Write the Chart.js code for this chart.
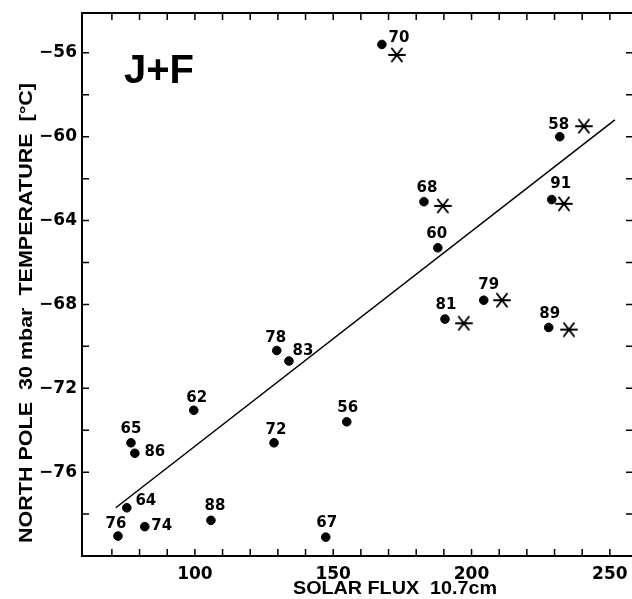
<!DOCTYPE html>
<html>
<head>
<meta charset="utf-8">
<script src="https://cdn.jsdelivr.net/npm/chart.js@4.4.0/dist/chart.umd.min.js"></script>
<style>
  html, body { margin: 0; padding: 0; background: #fff; overflow: hidden; }
  #wrap { width: 632px; height: 599px; position: relative; }
</style>
</head>
<body>
<div id="wrap"><canvas id="myChart" width="632" height="599"></canvas></div>
<script>
// winters (J+F), solar flux vs 30 mbar north pole temperature
var years = ['70', '58', '68', '91', '60', '79', '81', '89', '56', '67', '78', '83', '62', '72', '65', '86', '64', '76', '74', '88']
var flux = [167.6, 231.9, 182.8, 229.0, 187.8, 204.4, 190.4, 227.9, 154.9, 147.3, 129.6, 134.0, 99.6, 128.6, 76.9, 78.3, 75.4, 72.2, 81.9, 105.8]
var temp = [-55.6, -60.0, -63.1, -63.0, -65.3, -67.8, -68.7, -69.1, -73.6, -79.1, -70.2, -70.7, -73.05, -74.6, -74.6, -75.1, -77.7, -79.05, -78.6, -78.3]

// asterisks for the same years (70, 58, 68, 91, 79, 81, 89)
var starFlux = [173.0, 240.6, 189.6, 233.4, 211.0, 197.2, 235.2]
var starTemp = [-56.1, -59.5, -63.3, -63.2, -67.8, -68.9, -69.2]

// regression line end points
var fitFlux = [71.4, 251.8]
var fitTemp = [-77.7, -59.2]

var xTicks = [60, 70, 80, 90, 100, 110, 120, 130, 140, 150, 160, 170, 180, 190, 200, 210, 220, 230, 240, 250]
var yTicks = [-78, -76, -74, -72, -70, -68, -66, -64, -62, -60, -58, -56]
var xTickLabels = [100, 150, 200, 250]
var yTickLabels = [-56, -60, -64, -68, -72, -76]

// where each year label sits relative to its dot (pixels)
var labelShift = [[17, -6], [-1, -12], [3, -14], [9, -15], [-1, -14], [5, -15], [1, -14], [1, -13], [1, -14], [1, -14],
  [-1, -12], [14, -10], [3, -12], [2, -13], [0, -14], [20, -1], [19, -7], [-2, -12], [17, -1], [4, -14]]

Chart.defaults.font.family = 'DejaVu Sans'
Chart.defaults.color = '#000'

// asterisk marker
var star = document.createElement('canvas')
star.width = 18; star.height = 16
var sc = star.getContext('2d')
sc.strokeStyle = '#000'; sc.lineWidth = 2; sc.lineCap = 'round'
sc.beginPath()
sc.moveTo(1, 8); sc.lineTo(17, 8)
sc.moveTo(4, 1.5); sc.lineTo(14, 14.5)
sc.moveTo(14, 1.5); sc.lineTo(4, 14.5)
sc.stroke()

function fitText(ctx, text, cx, cy, width, rot) {
  ctx.save()
  ctx.translate(cx, cy)
  ctx.rotate(rot)
  var w = ctx.measureText(text).width
  ctx.scale(width / w, 1)
  ctx.textAlign = 'center'
  ctx.textBaseline = 'middle'
  ctx.fillText(text, 0, 0)
  ctx.restore()
}

var framePlugin = {
  id: 'frame',
  afterDraw: function(chart) {
    var ctx = chart.ctx
    var a = chart.chartArea
    var xs = chart.scales.x, ys = chart.scales.y
    ctx.save()
    ctx.strokeStyle = '#000'
    ctx.lineWidth = 2
    // the right border falls just outside the picture, as in the scan
    ctx.beginPath()
    ctx.moveTo(a.right + 2, a.top); ctx.lineTo(a.left, a.top)
    ctx.lineTo(a.left, a.bottom); ctx.lineTo(a.right + 2, a.bottom)
    ctx.stroke()
    ctx.lineWidth = 1.5
    ctx.beginPath()
    xs.ticks.forEach(function(t) {
      var px = xs.getPixelForValue(t.value)
      if (px < a.left + 4 || px > a.right - 4) return
      ctx.moveTo(px, a.bottom); ctx.lineTo(px, a.bottom - 7)
      ctx.moveTo(px, a.top); ctx.lineTo(px, a.top + 7)
    })
    ys.ticks.forEach(function(t) {
      var py = ys.getPixelForValue(t.value)
      if (py < a.top + 4 || py > a.bottom - 4) return
      ctx.moveTo(a.left, py); ctx.lineTo(a.left + 7, py)
      ctx.moveTo(a.right, py); ctx.lineTo(a.right - 6, py)
    })
    ctx.stroke()

    // year labels
    var meta = chart.getDatasetMeta(0)
    ctx.fillStyle = '#000'
    ctx.font = 'bold 15px "DejaVu Sans"'
    ctx.textAlign = 'center'
    ctx.textBaseline = 'middle'
    meta.data.forEach(function(pt, i) {
      ctx.fillText(years[i], pt.x + labelShift[i][0], pt.y + labelShift[i][1])
    })

    // panel label
    ctx.font = 'bold 40px "Liberation Sans"'
    ctx.textAlign = 'left'
    ctx.textBaseline = 'alphabetic'
    ctx.fillText('J+F', 124, 83)

    // axis titles
    ctx.font = 'bold 19px "Liberation Sans"'
    fitText(ctx, 'SOLAR FLUX  10.7cm', 395, 589, 204, 0)
    fitText(ctx, 'NORTH POLE  30 mbar  TEMPERATURE  [°C]', 27, 313, 460, -Math.PI / 2)
    ctx.restore()
  }
}

var ctx = document.getElementById('myChart').getContext('2d')
var myChart = new Chart(ctx, {
  type: 'scatter',
  data: {
    datasets: [{
      data: flux.map(function(v, i) { return {x: v, y: temp[i]} }),
      backgroundColor: '#000',
      borderColor: '#000',
      pointRadius: 4.3,
      pointHoverRadius: 4.3
    }, {
      data: starFlux.map(function(v, i) { return {x: v, y: starTemp[i]} }),
      pointStyle: star,
      pointRadius: 8
    }, {
      type: 'line',
      data: fitFlux.map(function(v, i) { return {x: v, y: fitTemp[i]} }),
      borderColor: '#000',
      borderWidth: 1.5,
      pointRadius: 0,
      fill: false
    }]
  },
  options: {
    responsive: false,
    animation: false,
    events: [],
    // autoPadding reserved room for the 8px star markers on the right
    layout: {autoPadding: false, padding: {top: 13, right: 0, left: 0, bottom: 0}},
    plugins: {legend: {display: false}, tooltip: {enabled: false}},
    scales: {
      x: {
        type: 'linear',
        min: 59.2,
        max: 258,
        grid: {display: false, drawTicks: false},
        border: {display: false},
        afterFit: function(s) { s.height = 43; s.paddingLeft = 0; s.paddingRight = 0 },
        afterBuildTicks: function(s) { s.ticks = xTicks.map(function(v) { return {value: v} }) },
        ticks: {
          autoSkip: false,
          maxRotation: 0,
          padding: 8,
          font: {size: 17, weight: 'bold'},
          callback: function(v) { return xTickLabels.indexOf(v) >= 0 ? String(v) : '' }
        }
      },
      y: {
        type: 'linear',
        min: -80,
        max: -54.1,
        grid: {display: false, drawTicks: false},
        border: {display: false},
        afterFit: function(s) { s.width = 82; s.paddingTop = 0; s.paddingBottom = 0 },
        afterBuildTicks: function(s) { s.ticks = yTicks.map(function(v) { return {value: v} }) },
        ticks: {
          autoSkip: false,
          padding: 5,
          font: {size: 17, weight: 'bold'},
          callback: function(v) { return yTickLabels.indexOf(v) >= 0 ? '\u2212' + Math.abs(v) : '' }
        }
      }
    }
  },
  plugins: [framePlugin]
})
</script>
</body>
</html>
